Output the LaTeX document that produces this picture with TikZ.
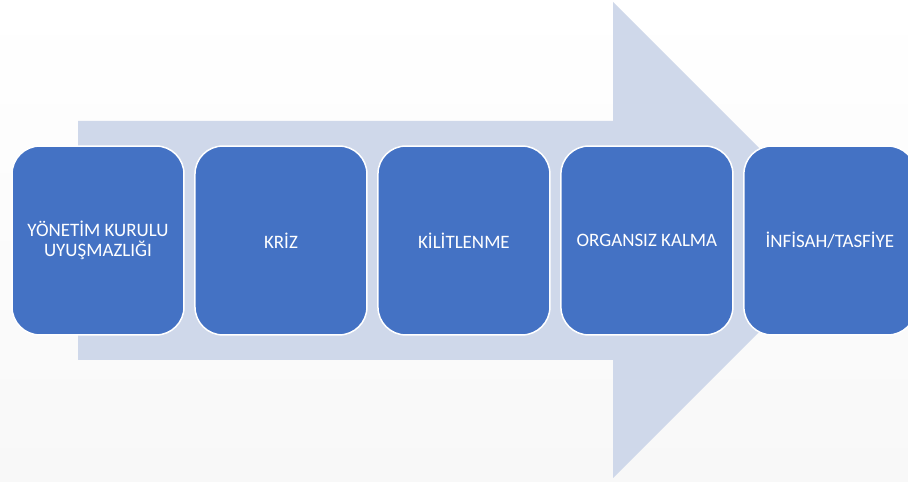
\documentclass[tikz,border=0pt]{standalone}
\usepackage{fontspec}
\setmainfont{Carlito}
\usepackage{tikz}
\usetikzlibrary{positioning}
\definecolor{boxblue}{HTML}{4472C4}
\definecolor{arrowblue}{HTML}{CFD8EA}
\definecolor{bggray}{HTML}{F8F8F8}

\begin{document}
\begin{tikzpicture}[x=0.02cm,y=0.02cm,
  stepbox/.style={rectangle, rounded corners=0.56cm, fill=boxblue, draw=white,
    line width=0.03cm, minimum width=3.44cm, minimum height=3.78cm, outer sep=0pt,
    text=white, align=center, font=\fontsize{10.8}{11.6}\selectfont}]
\shade[top color=white, bottom color=bggray] (0,0) rectangle (908,482);
\useasboundingbox (0,0) rectangle (908,482);
\fill[arrowblue] (78,361) -- (613,361) -- (613,480) -- (851,242) -- (613,4) -- (613,122) -- (78,122) -- cycle;
\node[stepbox] (yk) at (98,241.5) {YÖNETİM KURULU\\UYUŞMAZLIĞI};
\node[stepbox, right=0.22cm of yk] (kriz) {KRİZ};
\node[stepbox, right=0.22cm of kriz] (kilit) {KİLİTLENME};
\node[stepbox, right=0.22cm of kilit] (organ) {ORGANSIZ KALMA};
\node[stepbox, right=0.22cm of organ] (infisah) {İNFİSAH/TASFİYE};
\end{tikzpicture}
\end{document}
